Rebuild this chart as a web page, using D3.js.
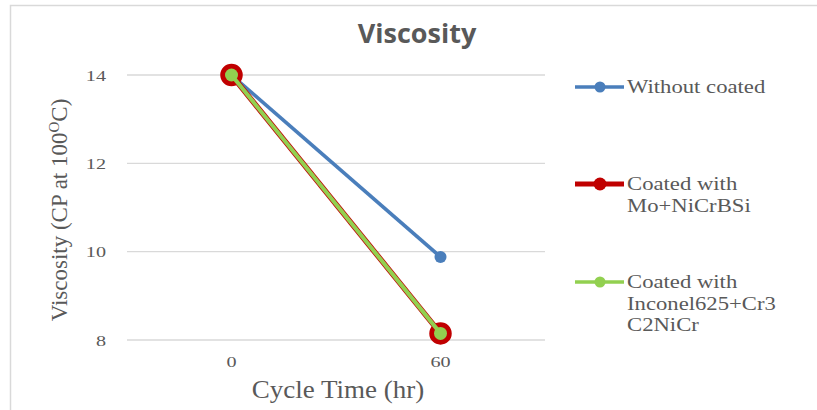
<!DOCTYPE html>
<html>
<head>
<meta charset="utf-8">
<script src="https://cdn.jsdelivr.net/npm/d3@7/dist/d3.min.js"></script>
<style>
  html, body { margin: 0; padding: 0; background: #fff; }
  svg { display: block; }
</style>
</head>
<body>
<svg id="chart" width="817" height="410"></svg>
<script>
// Viscosity over cycle time for uncoated and coated samples
const categories = ["0", "60"];
const yTicks = [8, 10, 12, 14];
const seriesNames = ["Without coated", "Coated with Mo+NiCrBSi", "Coated with Inconel625+Cr3 C2NiCr"];
const withoutCoated = [14, 9.88];
const coatedMoNiCrBSi = [14, 8.15];
const coatedInconel = [14, 8.15];

const legendLines = [
  ["Without coated"],
  ["Coated with", "Mo+NiCrBSi"],
  ["Coated with", "Inconel625+Cr3", "C2NiCr"]
];

const series = [
  { name: seriesNames[0], values: withoutCoated, color: "#4a7ebb", width: 3.6, r: 6, stroke: "none", sw: 0, legW: 3.6, legR: 5.5 },
  { name: seriesNames[1], values: coatedMoNiCrBSi, color: "#c00000", width: 5.5, r: 9.5, stroke: "#c00000", sw: 3.5, legW: 5, legR: 6.5 },
  { name: seriesNames[2], values: coatedInconel, color: "#92d050", width: 4, r: 6.5, stroke: "none", sw: 0, legW: 3.6, legR: 5.5 }
];

const svg = d3.select("#chart");
const serif = "'Liberation Serif', 'Times New Roman', serif";
const textGrey = "#595959";

// widen serif text horizontally by a factor, keeping the anchor point
function widen(sel, factor) {
  sel.each(function () {
    const len = this.getComputedTextLength();
    d3.select(this)
      .attr("textLength", len * factor)
      .attr("lengthAdjust", "spacingAndGlyphs");
  });
}

// chart frame
svg.append("rect")
  .attr("x", 10.5).attr("y", 5.5)
  .attr("width", 820).attr("height", 420)
  .attr("fill", "#fff").attr("stroke", "#d9d9d9").attr("stroke-width", 1.5);

const plot = { left: 127, right: 545, top: 75, bottom: 340 };

const x = d3.scaleBand().domain(categories).range([plot.left, plot.right]);
const y = d3.scaleLinear().domain([8, 14]).range([plot.bottom, plot.top]);

// gridlines
svg.append("g")
  .selectAll("line")
  .data(yTicks)
  .join("line")
  .attr("x1", plot.left).attr("x2", plot.right)
  .attr("y1", d => y(d)).attr("y2", d => y(d))
  .attr("stroke", "#d9d9d9").attr("stroke-width", 1.3);

// y axis labels
const yAxis = d3.axisLeft(y).tickValues(yTicks).tickSize(0).tickPadding(0).tickFormat(d3.format("d"));
const gy = svg.append("g").attr("transform", `translate(106,0)`).call(yAxis);
gy.select(".domain").remove();
gy.selectAll("text")
  .attr("font-family", serif).attr("font-size", 15.5).attr("fill", textGrey)
  .attr("dy", "0.33em")
  .call(widen, 1.3);

// x axis labels
const xAxis = d3.axisBottom(x).tickSize(0).tickPadding(0);
const gx = svg.append("g").attr("transform", `translate(0,367)`).call(xAxis);
gx.select(".domain").remove();
gx.selectAll("text")
  .attr("font-family", serif).attr("font-size", 15.5).attr("fill", textGrey)
  .attr("dy", 0)
  .call(widen, 1.3);

// title
svg.append("text")
  .attr("x", 417).attr("y", 43)
  .attr("text-anchor", "middle")
  .attr("font-family", "'Open Sans', 'DejaVu Sans', sans-serif")
  .attr("font-weight", "bold").attr("font-size", 27)
  .attr("fill", textGrey)
  .text("Viscosity");

// axis titles
const yTitle = svg.append("text")
  .attr("transform", "translate(67,210) rotate(-90)")
  .attr("text-anchor", "middle")
  .attr("font-family", serif).attr("font-size", 23).attr("fill", textGrey);
yTitle.append("tspan").text("Viscosity (CP at 100");
yTitle.append("tspan").attr("font-size", 15).attr("dy", -8).text("O");
yTitle.append("tspan").attr("dy", 8).text("C)");

svg.append("text")
  .attr("x", 338).attr("y", 398)
  .attr("text-anchor", "middle")
  .attr("font-family", serif).attr("font-size", 25).attr("fill", textGrey)
  .text("Cycle Time (hr)")
  .call(widen, 1.08);

// series lines and markers
const cx = i => x(categories[i]) + x.bandwidth() / 2;
const line = d3.line().x((d, i) => cx(i)).y(d => y(d));

series.forEach(s => {
  const g = svg.append("g");
  g.append("path")
    .datum(s.values)
    .attr("d", line)
    .attr("fill", "none")
    .attr("stroke", s.color)
    .attr("stroke-width", s.width)
    .attr("stroke-linejoin", "round");
  g.selectAll("circle")
    .data(s.values)
    .join("circle")
    .attr("cx", (d, i) => cx(i))
    .attr("cy", d => y(d))
    .attr("r", s.r)
    .attr("fill", s.color)
    .attr("stroke", s.stroke)
    .attr("stroke-width", s.sw);
});

// legend
const legendY = [87, 184, 282];
series.forEach((s, i) => {
  const g = svg.append("g").attr("transform", `translate(0,${legendY[i]})`);
  g.append("line")
    .attr("x1", 575).attr("x2", 624)
    .attr("y1", 0).attr("y2", 0)
    .attr("stroke", s.color).attr("stroke-width", s.legW);
  g.append("circle")
    .attr("cx", 600).attr("cy", 0)
    .attr("r", s.legR)
    .attr("fill", s.color);
  const t = g.append("text")
    .attr("font-family", serif).attr("font-size", 18).attr("fill", textGrey);
  legendLines[i].forEach((ln, j) => {
    t.append("tspan").attr("x", 627).attr("y", 6 + j * 21.5).text(ln);
  });
  t.selectAll("tspan").call(widen, 1.26);
});
</script>
</body>
</html>
